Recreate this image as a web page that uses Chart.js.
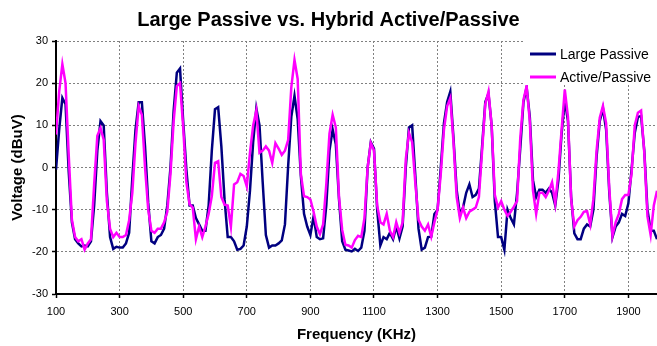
<!DOCTYPE html>
<html>
<head>
<meta charset="utf-8">
<script src="https://cdn.jsdelivr.net/npm/chart.js@4"></script>
<style>
  html, body { margin: 0; padding: 0; background: #fff; }
  #wrap { width: 657px; height: 346px; }
</style>
</head>
<body>
<div id="wrap"><canvas id="chart"></canvas></div>
<script>
// readings every 10 KHz, from 100 to 1990 KHz
const freqStart = 100;
const freqStep = 10;

const largePassive = [
    -0.5, 9, 16.5, 15, -1, -13, -17, -18, -18.7, -18.5,
    -18.7, -17.5, -9, 4, 11, 10, -6, -16.5, -19.3, -18.8,
    -19, -19, -18, -15.5, -2.5, 9, 15.5, 15.5, 5, -8.4,
    -17.5, -18, -16.5, -16, -14.5, -9, 0, 13.5, 22.5, 23.5,
    11, -0.5, -9, -9, -12, -13.5, -15, -15, -9, 4,
    13.8, 14.3, 5, -7.5, -16.5, -16.5, -17.5, -19.5, -19.3, -18.5,
    -14, -5.5, 6, 14, 10, -3.5, -16, -19, -18.5, -18.5,
    -18, -17.3, -13.5, 0.3, 12, 17, 11.5, -2, -11, -14,
    -16, -11.6, -16.5, -17, -16.8, -9, 4, 9, 5.5, -7.6,
    -17.5, -19.5, -19.7, -19.9, -19.3, -19.8, -19, -15, 0, 6,
    4.5, -10, -18.5, -16.5, -17, -15.5, -17, -14, -16.8, -14,
    0, 9.5, 10, -2, -14.5, -19.5, -19, -16.5, -16.4, -11,
    -10, 0, 10.5, 15.5, 18, 7, -5.3, -11, -9.5, -6,
    -4, -7, -6.5, -5, 5, 15.5, 17.5, 10, -8, -16.5,
    -16.5, -19.5, -10, -12, -13.5, -6, 4.5, 15.5, 19, 12,
    -3, -7, -5.3, -5.3, -6, -5, -6, -9, -3, 8,
    16, 11, -7, -15.6, -17, -17, -14.5, -13.5, -14, -10,
    2.5, 11, 14, 9, -6, -16.5, -14, -13, -11, -11.5,
    -8.5, -0.5, 8.2, 12, 12.2, 4, -10, -15, -15, -17
];

const activePassive = [
    7.8, 18, 24.5, 20, 3, -12.4, -16.5, -17.5, -17, -19.5,
    -18, -17, -4, 7.5, 9.4, 6.6, -8, -14.5, -16.5, -15.5,
    -16.5, -16.5, -16, -12.5, -6, 5.8, 14.5, 12.5, 0, -10,
    -15, -15.5, -14.5, -14.5, -13, -10.5, -1.5, 11, 19.3, 20,
    9.5, -3.5, -8.7, -9.5, -17, -14, -16.5, -14, -11, -6.8,
    1.1, 1.5, -7, -8.8, -9, -14, -4, -3.5, -1.5, -2,
    -4.5, 3.5, 10, 13.5, 3.5, 4, 5, 4, 1.1, 5.8,
    4.5, 3, 4, 6.5, 19, 25.5, 21, -1.5, -6.8, -7,
    -7.6, -10.5, -14, -15.8, -13.5, -4, 8, 12.5, 9.5, -7,
    -14.8, -18.3, -18.5, -19, -17.2, -16.2, -16.5, -12, 0, 5.8,
    4, -9, -13, -13.5, -11, -15, -16.5, -13, -15.5, -13,
    2, 8.2, 6, -3.7, -12.4, -14, -15, -13.5, -16.4, -13,
    -10, -1.5, 9, 14.5, 16.5, 6, -7, -12, -9.5, -12,
    -10.5, -10, -9.5, -7, 4, 15, 18, 10, -6.5, -9.5,
    -8, -10, -11.5, -10.5, -9.3, -8, 7, 16, 19.3, 11,
    -5.5, -11, -6, -6, -7, -5.5, -3.5, -8.5, -1, 9,
    18.5, 12, -7.5, -14, -12.5, -11.7, -10.5, -10.3, -13.5, -7.5,
    4, 11.8, 14.6, 10.5, -5, -16.2, -13, -11, -7.5, -6.5,
    -6.5, -1.5, 10, 13, 13.5, 3.5, -11.6, -16, -9, -5.5
];

const xTicks = [100, 300, 500, 700, 900, 1100, 1300, 1500, 1700, 1900];
const yTicks = [-30, -20, -10, 0, 10, 20, 30];

const freqs = largePassive.map((_, i) => freqStart + i * freqStep);
const toPoints = (vals) => vals.map((v, i) => ({ x: freqs[i], y: v }));

const FONT = "'Liberation Sans', Arial, sans-serif";

// legend sits inside the plot, top right, on a white box
const boxLegend = {
    id: 'boxLegend',
    afterDraw(chart) {
        const { ctx, chartArea } = chart;
        const left = chartArea.right - 132;
        ctx.save();
        ctx.fillStyle = '#fff';
        ctx.fillRect(left, chartArea.top - 2, chartArea.right - left, 46);
        ctx.font = '14px ' + FONT;
        ctx.textBaseline = 'middle';
        ctx.textAlign = 'left';
        const items = [chart.data.datasets[0], chart.data.datasets[1]];
        items.forEach((ds, i) => {
            const y = chartArea.top + 13 + i * 23;
            ctx.strokeStyle = ds.borderColor;
            ctx.lineWidth = 3;
            ctx.beginPath();
            ctx.moveTo(left + 5, y);
            ctx.lineTo(left + 31, y);
            ctx.stroke();
            ctx.fillStyle = '#000';
            ctx.fillText(ds.label, left + 35, y + 1);
        });
        ctx.restore();
    }
};

new Chart(document.getElementById('chart'), {
    type: 'line',
    data: {
        datasets: [
            {
                label: 'Large Passive',
                data: toPoints(largePassive),
                borderColor: '#000080',
                borderWidth: 2.5,
                pointRadius: 0,
                tension: 0,
                order: 1
            },
            {
                label: 'Active/Passive',
                data: toPoints(activePassive),
                borderColor: '#FF00FF',
                borderWidth: 2.5,
                pointRadius: 0,
                tension: 0,
                order: 0
            }
        ]
    },
    options: {
        responsive: true,
        maintainAspectRatio: false,
        devicePixelRatio: 1,
        animation: false,
        layout: { padding: 0 },
        plugins: {
            legend: { display: false },
            tooltip: { enabled: false },
            title: {
                display: true,
                text: 'Large Passive vs. Hybrid Active/Passive',
                color: '#000',
                font: { family: FONT, size: 20, weight: 'bold' },
                padding: { top: 8, bottom: 9 }
            }
        },
        scales: {
            x: {
                type: 'linear',
                min: 100,
                max: 1990,
                afterBuildTicks: (axis) => {
                    axis.ticks = xTicks.map(v => ({ value: v }));
                },
                afterFit: (s) => { s.height = 52; },
                ticks: {
                    color: '#000',
                    font: { family: FONT, size: 11 },
                    padding: 7,
                    autoSkip: false,
                    maxRotation: 0,
                    callback: (v) => String(v)
                },
                grid: { color: '#808080', lineWidth: 1, tickColor: '#000', tickLength: 4, tickWidth: 1.5 },
                border: { color: '#000', width: 2, dash: [2, 2] },
                title: {
                    display: true,
                    text: 'Frequency (KHz)',
                    color: '#000',
                    font: { family: FONT, size: 15, weight: 'bold' },
                    padding: { bottom: 2 }
                }
            },
            y: {
                min: -30,
                max: 30,
                afterBuildTicks: (axis) => {
                    axis.ticks = yTicks.map(v => ({ value: v }));
                },
                afterFit: (s) => { s.width = 56; },
                ticks: {
                    color: '#000',
                    font: { family: FONT, size: 11 },
                    padding: 4,
                    callback: (v) => String(v)
                },
                grid: { color: '#808080', lineWidth: 1, tickColor: '#000', tickLength: 4, tickWidth: 1.5 },
                border: { color: '#000', width: 2, dash: [2, 2] },
                title: {
                    display: true,
                    text: 'Voltage (dBuV)',
                    color: '#000',
                    font: { family: FONT, size: 15, weight: 'bold' },
                    padding: { top: 9 }
                }
            }
        }
    },
    plugins: [boxLegend]
});
</script>
</body>
</html>
